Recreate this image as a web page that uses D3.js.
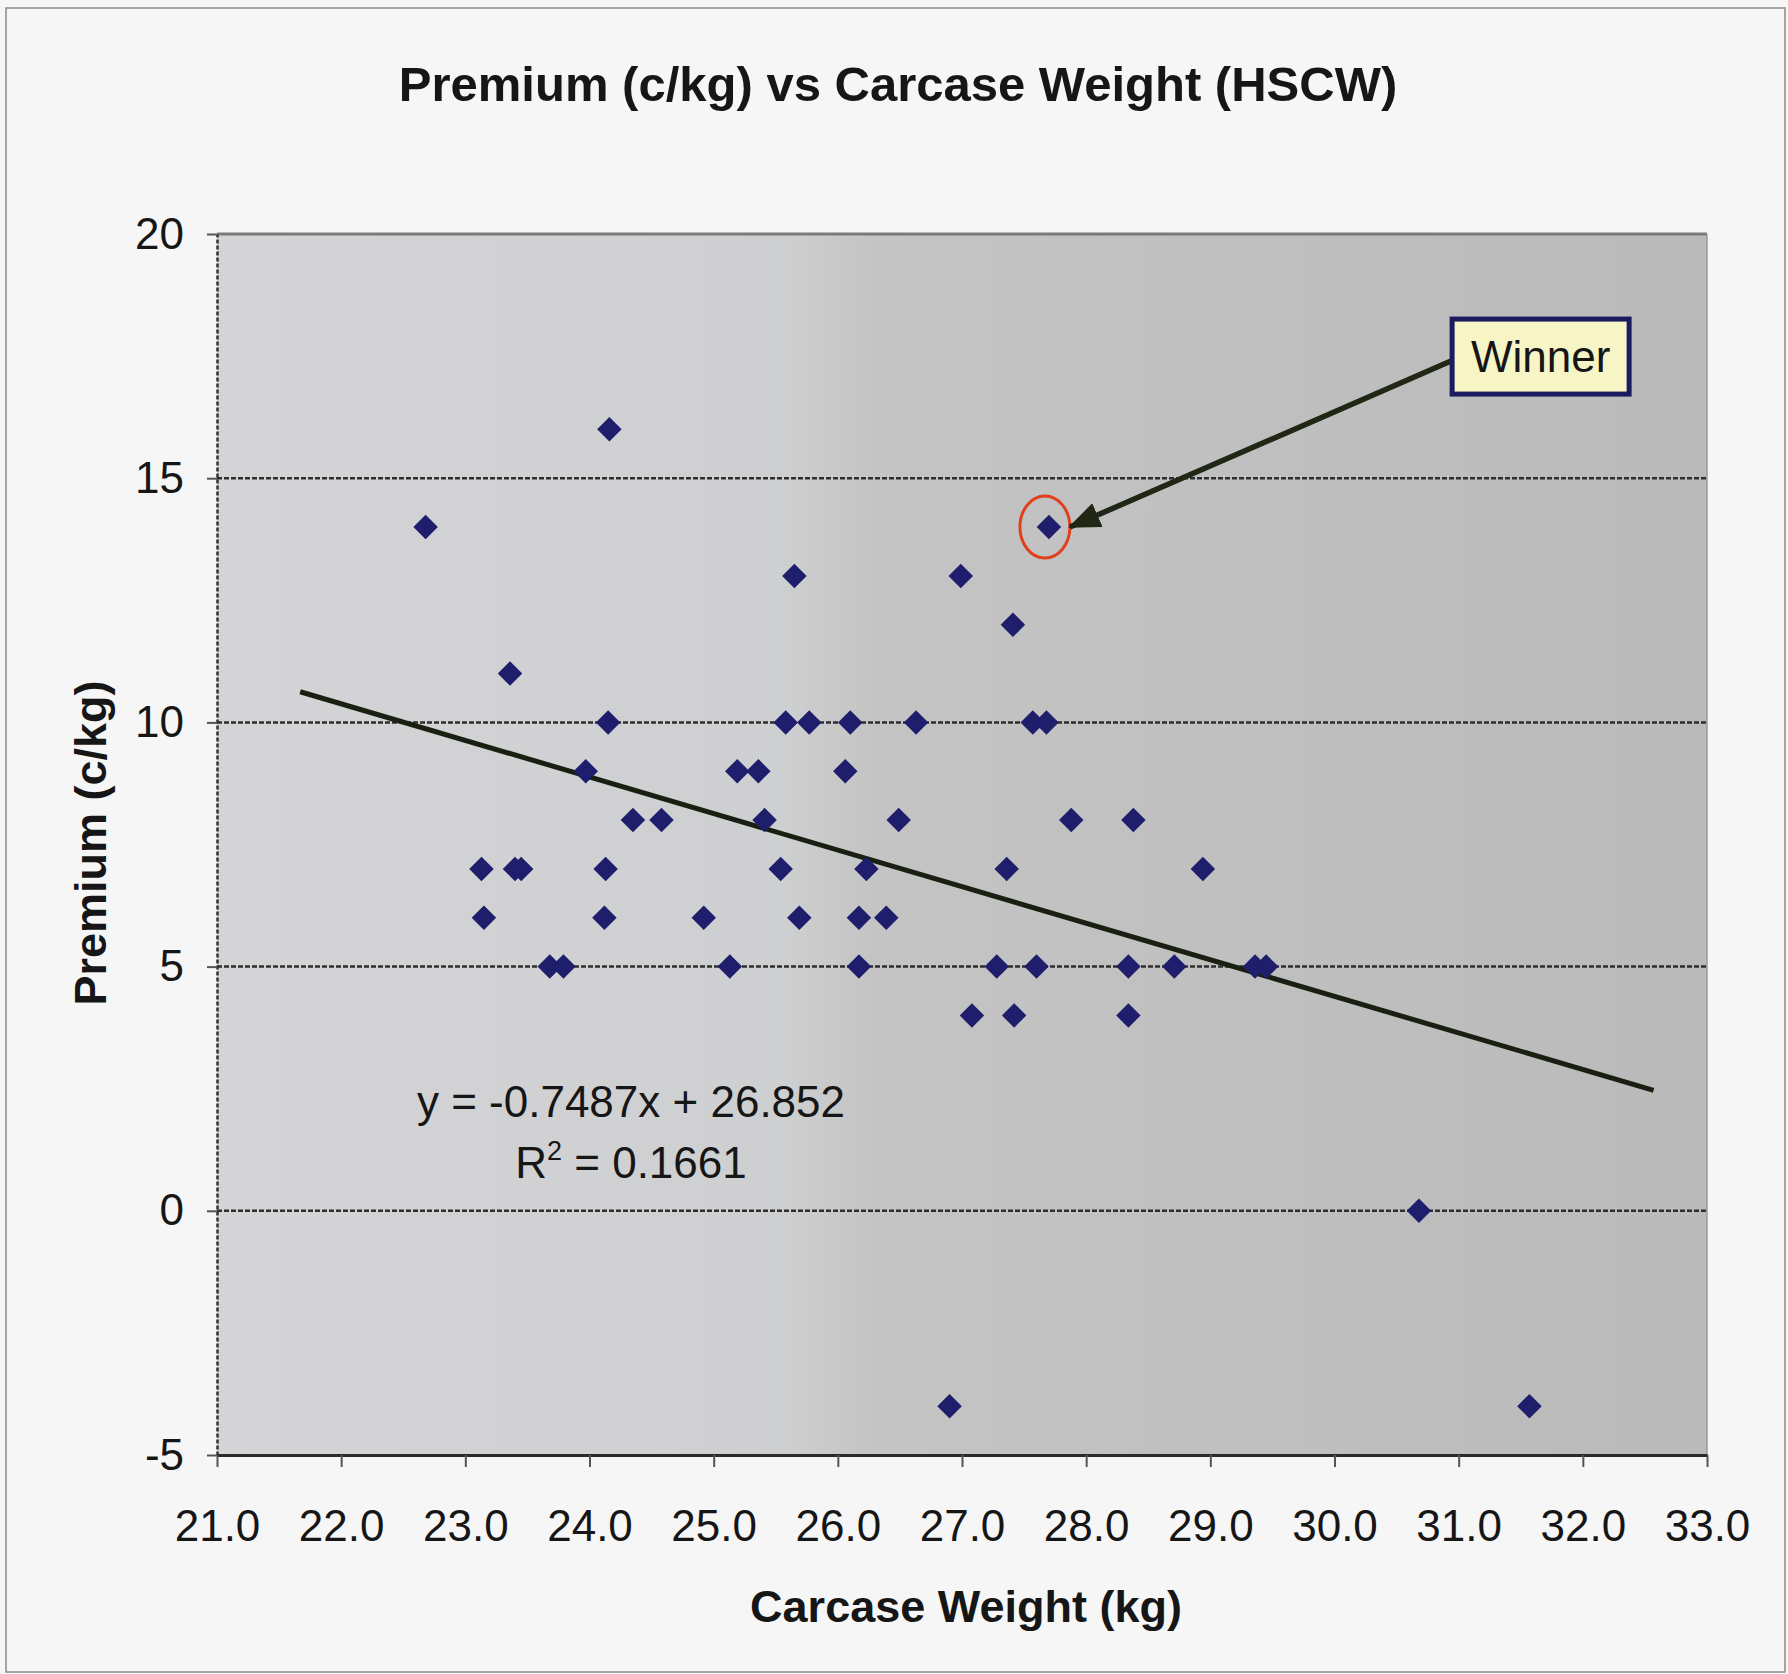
<!DOCTYPE html>
<html>
<head>
<meta charset="utf-8">
<script src="https://cdn.jsdelivr.net/npm/d3@7"></script>
<style>
  body { margin: 0; background: #f6f6f6; }
  svg { display: block; }
  text { font-family: "Liberation Sans", Arial, sans-serif; fill: #161616; }
</style>
</head>
<body>
<div id="chart"></div>
<script>
// carcase weight (kg) and premium (c/kg)
const weights = [
    22.68, 24.16, 23.36, 23.13, 23.15, 23.40, 23.45, 23.68, 23.79, 23.97,
    24.15, 24.13, 24.12, 24.35, 24.58, 24.92, 25.13, 25.19, 25.36, 25.41,
    25.54, 25.58, 25.65, 25.69, 25.77, 26.06, 26.10, 26.17, 26.17, 26.23,
    26.39, 26.49, 26.63, 26.90, 26.99, 27.08, 27.28, 27.36, 27.41, 27.42,
    27.57, 27.68, 27.60, 27.70, 27.88, 28.34, 28.34, 28.38, 28.71, 28.94,
    29.36, 29.45, 30.68, 31.57
];
const premiums = [
    14, 16, 11, 7, 6, 7, 7, 5, 5, 9,
    10, 7, 6, 8, 8, 6, 5, 9, 9, 8,
    7, 10, 13, 6, 10, 9, 10, 6, 5, 7,
    6, 8, 10, -4, 13, 4, 5, 7, 12, 4,
    10, 10, 5, 14, 8, 5, 4, 8, 5, 7,
    5, 5, 0, -4
];
const winnerIndex = 43;

const xTickValues = [21, 22, 23, 24, 25, 26, 27, 28, 29, 30, 31, 32, 33];
const yTickValues = [-5, 0, 5, 10, 15, 20];
const gridValues = [0, 5, 10, 15];

// linear trendline as printed on the chart
const trendSlope = -0.7487;
const trendIntercept = 26.852;
const trendExtent = [21.67, 32.57];
const trendLabel = ["y = -0.7487x + 26.852", "0.1661"];

const chartTitle = "Premium (c/kg) vs Carcase Weight (HSCW)";
const xTitle = "Carcase Weight (kg)";
const yTitle = "Premium (c/kg)";
const winnerText = "Winner";
const winnerLabelPos = [31.66, 17.49];

const W = 1788, H = 1674;
const margin = {top: 234, right: 81, bottom: 219, left: 217};
const width = W - margin.left - margin.right;
const height = H - margin.top - margin.bottom;

const points = weights.map((w, i) => ({x: w, y: premiums[i]}));

const svg = d3.select("#chart")
    .append("svg")
    .attr("width", W)
    .attr("height", H);

const defs = svg.append("defs");
const grad = defs.append("linearGradient").attr("id", "plotBg")
    .attr("x1", "0%").attr("x2", "100%").attr("y1", "0%").attr("y2", "0%");
grad.append("stop").attr("offset", "0%").attr("stop-color", "#d4d4d6");
grad.append("stop").attr("offset", "38%").attr("stop-color", "#cecfd0");
grad.append("stop").attr("offset", "44%").attr("stop-color", "#c4c4c4");
grad.append("stop").attr("offset", "100%").attr("stop-color", "#bababa");

defs.append("marker").attr("id", "arrowHead")
    .attr("markerUnits", "userSpaceOnUse")
    .attr("viewBox", "0 0 32 26")
    .attr("refX", 30).attr("refY", 13)
    .attr("markerWidth", 32).attr("markerHeight", 26)
    .attr("orient", "auto")
    .append("path")
    .attr("d", "M0,0 L32,13 L0,26 Z")
    .attr("fill", "#202715");

// outer frame
svg.append("rect")
    .attr("x", 6).attr("y", 8)
    .attr("width", W - 9).attr("height", H - 10)
    .attr("fill", "#f6f6f6")
    .attr("stroke", "#8a8a8a")
    .attr("stroke-width", 1.5);

const g = svg.append("g")
    .attr("transform", `translate(${margin.left},${margin.top})`);

const x = d3.scaleLinear().domain([21, 33]).range([0, width]);
const y = d3.scaleLinear().domain([-5, 20]).range([height, 0]);

g.append("rect")
    .attr("width", width).attr("height", height)
    .attr("fill", "url(#plotBg)");

// horizontal gridlines
g.append("g").selectAll("line")
    .data(gridValues).enter().append("line")
    .attr("x1", 0).attr("x2", width)
    .attr("y1", d => y(d)).attr("y2", d => y(d))
    .attr("stroke", "#2e2e2e")
    .attr("stroke-width", 2.5)
    .attr("stroke-dasharray", "5,2");

// plot area border top and right
g.append("line").attr("x1", 0).attr("x2", width).attr("y1", 0).attr("y2", 0)
    .attr("stroke", "#7a7a7a").attr("stroke-width", 3);
g.append("line").attr("x1", width).attr("x2", width).attr("y1", 0).attr("y2", height)
    .attr("stroke", "#9a9a9a").attr("stroke-width", 1.5);

// x axis
const xAxis = g.append("g")
    .attr("transform", `translate(0,${height})`)
    .call(d3.axisBottom(x).tickValues(xTickValues).tickFormat(d3.format(".1f"))
        .tickSize(12).tickSizeOuter(0).tickPadding(43));
xAxis.select(".domain").attr("stroke", "#2a2a2a").attr("stroke-width", 3);
xAxis.selectAll(".tick line").attr("stroke", "#555").attr("stroke-width", 2);
xAxis.selectAll(".tick text").attr("font-size", 44).attr("fill", "#161616")
    .style("font-family", '"Liberation Sans", Arial, sans-serif');

// y axis
const yAxis = g.append("g")
    .call(d3.axisLeft(y).tickValues(yTickValues).tickFormat(d => String(d))
        .tickSize(10).tickSizeOuter(0).tickPadding(23));
yAxis.select(".domain").attr("stroke", "#333").attr("stroke-width", 2.5)
    .attr("stroke-dasharray", "4,2");
yAxis.selectAll(".tick line").attr("stroke", "#555").attr("stroke-width", 2);
yAxis.selectAll(".tick text").attr("font-size", 44).attr("fill", "#161616")
    .style("font-family", '"Liberation Sans", Arial, sans-serif');

// trendline
g.append("path")
    .datum(trendExtent.map(v => ({x: v, y: trendSlope * v + trendIntercept})))
    .attr("fill", "none")
    .attr("stroke", "#192011")
    .attr("stroke-width", 5)
    .attr("d", d3.line().x(d => x(d.x)).y(d => y(d.y)));

// points
const diamond = d3.symbol().type(d3.symbolSquare).size(300);
g.selectAll(".pt")
    .data(points).enter().append("path")
    .attr("class", "pt")
    .attr("d", diamond)
    .attr("transform", d => `translate(${x(d.x)},${y(d.y)}) rotate(45)`)
    .attr("fill", "#1e1e6c");

// trendline equation
const eq = g.append("text")
    .attr("text-anchor", "middle")
    .attr("font-size", 44)
    .attr("fill", "#202020");
eq.append("tspan").attr("x", 631 - margin.left).attr("y", 1117 - margin.top).text(trendLabel[0]);
const r2 = g.append("text")
    .attr("text-anchor", "middle")
    .attr("x", 631 - margin.left).attr("y", 1178 - margin.top)
    .attr("font-size", 44)
    .attr("fill", "#202020");
r2.append("tspan").text("R");
r2.append("tspan").attr("font-size", 27).attr("dy", -18).text("2");
r2.append("tspan").attr("dy", 18).text(" = " + trendLabel[1]);

// winner annotation
const win = points[winnerIndex];
g.append("ellipse")
    .attr("cx", x(win.x) - 4).attr("cy", y(win.y))
    .attr("rx", 25).attr("ry", 31)
    .attr("fill", "none")
    .attr("stroke", "#e0401d")
    .attr("stroke-width", 3);

const boxW = 177, boxH = 75;
const bx = x(winnerLabelPos[0]), by = y(winnerLabelPos[1]);

g.append("line")
    .attr("x1", bx - boxW / 2).attr("y1", by + 4)
    .attr("x2", x(win.x) + 21).attr("y2", y(win.y))
    .attr("stroke", "#202715")
    .attr("stroke-width", 5.5)
    .attr("marker-end", "url(#arrowHead)");

g.append("rect")
    .attr("x", bx - boxW / 2).attr("y", by - boxH / 2)
    .attr("width", boxW).attr("height", boxH)
    .attr("fill", "#f7f5c6")
    .attr("stroke", "#1b1b60")
    .attr("stroke-width", 5);
g.append("text")
    .attr("x", bx).attr("y", by + 15)
    .attr("text-anchor", "middle")
    .attr("font-size", 44)
    .text(winnerText);

// titles
svg.append("text")
    .attr("x", 898).attr("y", 101)
    .attr("text-anchor", "middle")
    .attr("font-size", 49)
    .attr("font-weight", "bold")
    .text(chartTitle);

svg.append("text")
    .attr("x", 966).attr("y", 1622)
    .attr("text-anchor", "middle")
    .attr("font-size", 45)
    .attr("font-weight", "bold")
    .text(xTitle);

svg.append("text")
    .attr("transform", "translate(106,843) rotate(-90)")
    .attr("text-anchor", "middle")
    .attr("font-size", 45)
    .attr("font-weight", "bold")
    .text(yTitle);
</script>
</body>
</html>
